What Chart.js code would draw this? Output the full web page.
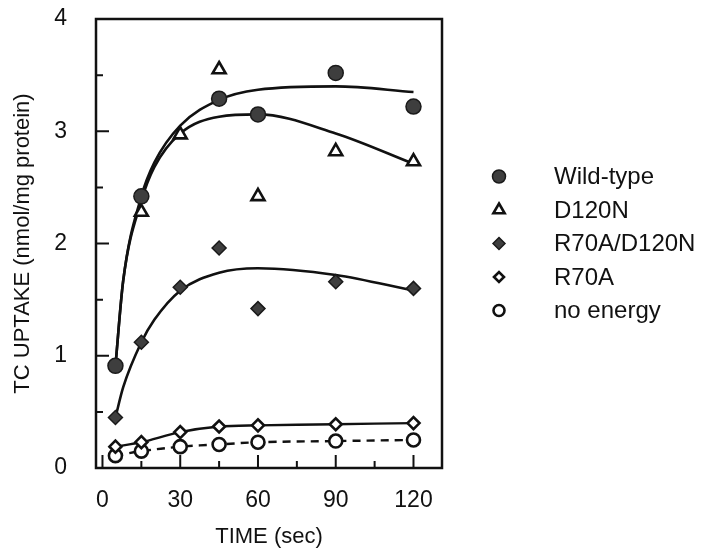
<!DOCTYPE html>
<html>
<head>
<meta charset="utf-8">
<script src="https://cdn.jsdelivr.net/npm/chart.js@4"></script>
<style>
  html, body { margin: 0; padding: 0; background: #fff; }
  #wrap { width: 722px; height: 555px; }
</style>
</head>
<body>
<div id="wrap"><canvas id="uptakeChart"></canvas></div>
<script>
// measured points, time in sec
const times = [5, 15, 30, 45, 60, 90, 120];
const wildType = [0.91, 2.42, null, 3.29, 3.15, 3.52, 3.22];
const d120n = [null, 2.28, 2.97, 3.55, 2.42, 2.82, 2.73];
const r70aD120n = [0.45, 1.12, 1.61, 1.96, 1.42, 1.66, 1.60];
const r70a = [0.19, 0.23, 0.32, 0.37, 0.38, 0.39, 0.40];
const noEnergy = [0.11, 0.15, 0.19, 0.21, 0.23, 0.24, 0.25];

// fitted curves
const fitTimes = [5, 8, 15, 20, 30, 45, 60, 90, 120];
const wildTypeFit = [0.91, 1.67, 2.42, 2.72, 3.05, 3.28, 3.37, 3.40, 3.35];
const d120nFit = [0.91, 1.67, 2.38, 2.68, 2.98, 3.13, 3.15, 2.98, 2.71];
const r70aD120nFit = [0.45, 0.72, 1.12, 1.32, 1.58, 1.74, 1.78, 1.72, 1.58];

const xTicks = [0, 30, 60, 90, 120];
const yTicks = [0, 1, 2, 3, 4];
const xTickMarks = [0, 15, 30, 45, 60, 75, 90, 105, 120];
const yTickMarks = [0.5, 1, 1.5, 2, 2.5, 3, 3.5];

const fontFamily = '"Liberation Sans", Arial, sans-serif';
const ink = '#111';
const darkFill = '#3e3e3e';

function pts(xs, ys) {
  return xs.map((x, i) => ({ x: x, y: ys[i] })).filter(p => p.y !== null);
}

function fitLine(ys) {
  return {
    isFit: true,
    type: 'line',
    data: pts(fitTimes, ys),
    borderColor: ink,
    borderWidth: 2.6,
    pointRadius: 0,
    cubicInterpolationMode: 'monotone',
    fill: false,
    order: 5
  };
}

const datasets = [
  fitLine(wildTypeFit),
  fitLine(d120nFit),
  fitLine(r70aD120nFit),
  {
    isFit: true, type: 'line', data: pts(times, r70a),
    borderColor: ink, borderWidth: 2.4, pointRadius: 0, tension: 0.3, order: 5
  },
  {
    isFit: true, type: 'line', data: pts(times, noEnergy),
    borderColor: ink, borderWidth: 2.4, borderDash: [8, 6], pointRadius: 0, tension: 0.3, order: 5
  },
  {
    label: 'Wild-type', data: pts(times, wildType), pointStyle: 'circle',
    pointRadius: 7.5, backgroundColor: darkFill, borderColor: '#1a1a1a', borderWidth: 1.5, order: 1
  },
  {
    label: 'D120N', data: pts(times, d120n), pointStyle: 'triangle',
    pointRadius: 7.5, backgroundColor: '#fff', borderColor: ink, borderWidth: 2.6, order: 1
  },
  {
    label: 'R70A/D120N', data: pts(times, r70aD120n), pointStyle: 'rectRot',
    pointRadius: 7, backgroundColor: darkFill, borderColor: '#1a1a1a', borderWidth: 1.5, order: 1
  },
  {
    label: 'R70A', data: pts(times, r70a), pointStyle: 'rectRot',
    pointRadius: 6, backgroundColor: '#fff', borderColor: ink, borderWidth: 2.6, order: 1
  },
  {
    label: 'no energy', data: pts(times, noEnergy), pointStyle: 'circle',
    pointRadius: 6.5, backgroundColor: '#fff', borderColor: ink, borderWidth: 2.6, order: 1
  }
];

// box around the plot and inward tick marks
const frame = {
  id: 'frame',
  afterDatasetsDraw(chart) {
    const { ctx, chartArea: a, scales } = chart;
    ctx.save();
    ctx.strokeStyle = ink;
    ctx.lineWidth = 2.5;
    ctx.strokeRect(a.left, a.top, a.right - a.left, a.bottom - a.top);
    ctx.lineWidth = 2;
    ctx.beginPath();
    xTickMarks.forEach(v => {
      const px = scales.x.getPixelForValue(v);
      const len = v % 30 === 0 ? 13 : 7;
      ctx.moveTo(px, a.bottom);
      ctx.lineTo(px, a.bottom - len);
    });
    yTickMarks.forEach(v => {
      const py = scales.y.getPixelForValue(v);
      const len = v % 1 === 0 ? 13 : 7;
      ctx.moveTo(a.left, py);
      ctx.lineTo(a.left + len, py);
    });
    ctx.stroke();
    ctx.restore();
  }
};

// legend on the right, symbol then label
const sideLegend = {
  id: 'sideLegend',
  afterDraw(chart) {
    const { ctx, chartArea: a } = chart;
    const items = chart.data.datasets.filter(d => !d.isFit);
    const rowGap = 33.5;
    const midY = (a.top + a.bottom) / 2;
    const y0 = midY - rowGap * (items.length - 1) / 2;
    const symX = a.right + 57;
    const textX = a.right + 112;
    ctx.save();
    ctx.font = '24px ' + fontFamily;
    ctx.textBaseline = 'middle';
    items.forEach((d, i) => {
      const y = y0 + i * rowGap;
      ctx.fillStyle = d.backgroundColor;
      ctx.strokeStyle = d.borderColor;
      ctx.lineWidth = d.borderWidth;
      Chart.helpers.drawPoint(ctx, {
        pointStyle: d.pointStyle,
        radius: d.pointRadius - 1,
        borderWidth: d.borderWidth,
        rotation: 0
      }, symX, y);
      ctx.fillStyle = ink;
      ctx.fillText(d.label, textX, y + 1);
    });
    ctx.restore();
  }
};

function createUptakeChart() {
  const ctx = document.getElementById('uptakeChart').getContext('2d');

  const config = {
    type: 'scatter',
    data: { datasets: datasets },
    options: {
      responsive: true,
      maintainAspectRatio: false,
      animation: false,
      layout: { padding: { top: 19, right: 280, left: 0, bottom: 0 } },
      plugins: {
        legend: { display: false },
        tooltip: { enabled: false }
      },
      scales: {
        x: {
          type: 'linear',
          min: -2.5,
          max: 131,
          afterBuildTicks: s => { s.ticks = xTicks.map(v => ({ value: v })); },
          afterFit: s => { s.height = 87; s.paddingLeft = 0; s.paddingRight = 0; },
          grid: { display: false },
          border: { display: false },
          ticks: { color: ink, font: { family: fontFamily, size: 23 }, padding: 11, maxRotation: 0 },
          title: {
            display: true, text: 'TIME (sec)', color: ink,
            font: { family: fontFamily, size: 22 }, padding: { top: 0, bottom: 5 }
          }
        },
        y: {
          min: 0,
          max: 4,
          afterBuildTicks: s => { s.ticks = yTicks.map(v => ({ value: v })); },
          afterFit: s => { s.width = 96; s.paddingTop = 0; s.paddingBottom = 0; },
          grid: { display: false },
          border: { display: false },
          ticks: { color: ink, font: { family: fontFamily, size: 23 }, padding: 21 },
          title: {
            display: true, text: 'TC UPTAKE (nmol/mg protein)', color: ink,
            font: { family: fontFamily, size: 22 }, padding: { top: 10, bottom: 0 }
          }
        }
      }
    },
    plugins: [frame, sideLegend]
  };

  new Chart(ctx, config);
}

createUptakeChart();
</script>
</body>
</html>
